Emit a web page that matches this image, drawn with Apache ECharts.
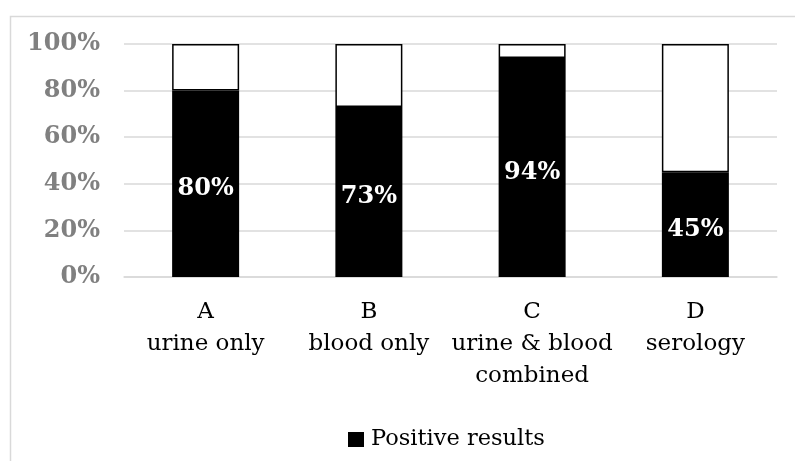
<!DOCTYPE html>
<html>
<head>
<meta charset="utf-8">
<script src="https://cdn.jsdelivr.net/npm/echarts@6/dist/echarts.min.js"></script>
<style>html,body{margin:0;padding:0;background:#fff}#c{width:795px;height:461px}</style>
</head>
<body>
<div id="c"></div>
<script>
var categories = ['A\nurine only', 'B\nblood only', 'C\nurine & blood\ncombined', 'D\nserology'];
var positive = [80, 73, 94, 45];
var remainder = [20, 27, 6, 55];
var yTicks = [0, 20, 40, 60, 80, 100];

var FONT = '"DejaVu Serif", serif';
var chart = echarts.init(document.getElementById('c'));
chart.setOption({
  animation: false,
  backgroundColor: '#fff',
  graphic: [{
    type: 'rect', left: 8, top: 14, shape: { width: 800, height: 460 },
    style: { fill: 'none', stroke: '#d9d9d9', lineWidth: 1.5 }, z: -1
  }],
  grid: { left: 124, right: 18, top: 44, bottom: 184 },
  legend: {
    data: ['Positive results'], top: 423, left: 343,
    icon: 'rect', itemWidth: 16, itemHeight: 15, itemGap: 10,
    textStyle: { fontFamily: FONT, fontSize: 22.5, color: '#000', padding: [0, 0, 0, 2] }
  },
  xAxis: {
    type: 'category', data: categories,
    axisLine: { lineStyle: { color: '#d9d9d9', width: 1.5 } },
    axisTick: { show: false },
    axisLabel: { fontFamily: FONT, fontSize: 23, color: '#000', lineHeight: 32, margin: 19, interval: 0 }
  },
  yAxis: {
    type: 'value', min: 0, max: 100, interval: 20,
    axisLine: { show: false }, axisTick: { show: false },
    splitLine: { lineStyle: { color: '#d9d9d9', width: 1.5 } },
    axisLabel: { fontFamily: FONT, fontSize: 24, fontWeight: 'bold', color: '#808080', margin: 24,
      formatter: function (v) { return yTicks.indexOf(v) >= 0 ? v + '%' : ''; } }
  },
  series: [{
    name: 'Positive results', type: 'bar', stack: 's', data: positive, barWidth: 67,
    itemStyle: { color: '#000' },
    label: { show: true, position: 'inside', offset: [0, 5], formatter: '{c}%', fontFamily: FONT, fontSize: 24,
      fontWeight: 'bold', color: '#fff' }
  }, {
    name: 'rest', type: 'bar', stack: 's', data: remainder, barWidth: 67,
    itemStyle: { color: '#fff', borderColor: '#000', borderWidth: 1.5 }
  }]
});
</script>
</body>
</html>
